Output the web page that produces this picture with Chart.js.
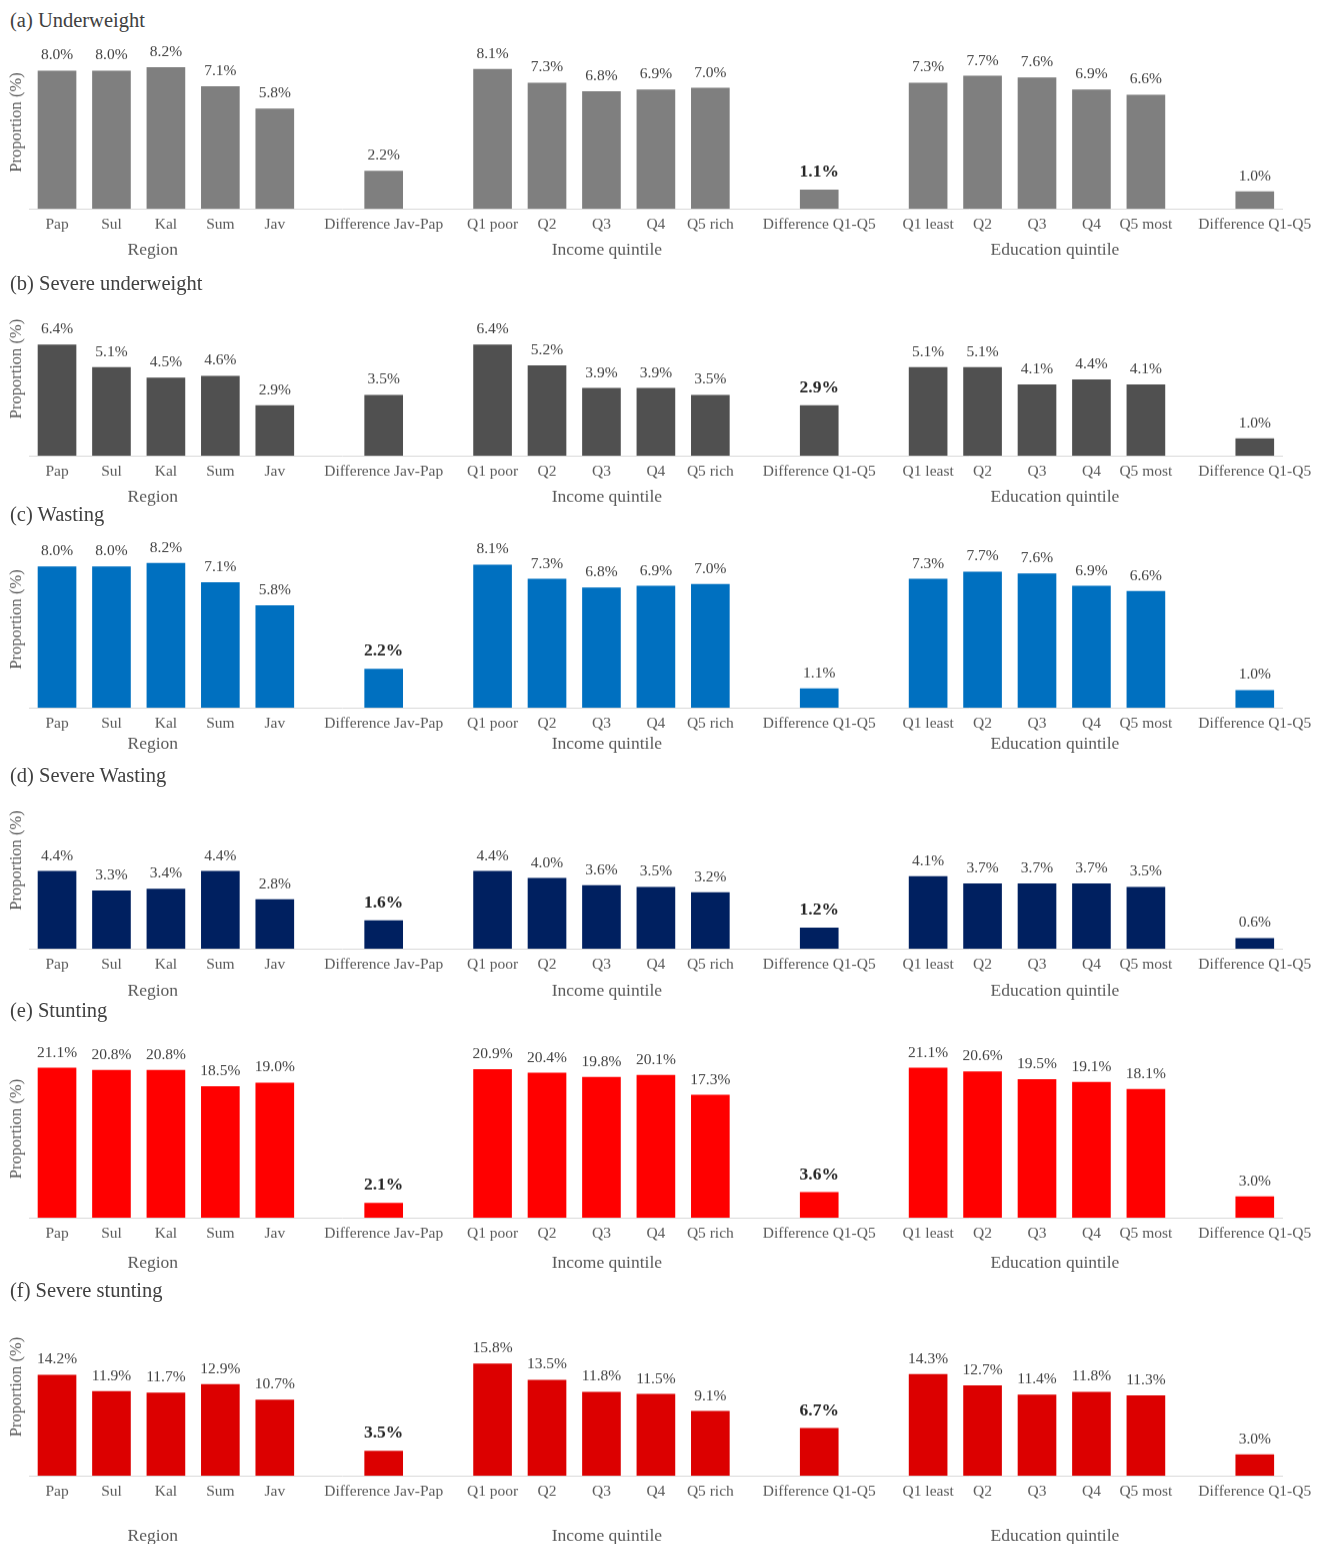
<!DOCTYPE html>
<html>
<head>
<meta charset="utf-8">
<script src="https://cdn.jsdelivr.net/npm/chart.js@4.4.1/dist/chart.umd.min.js"></script>
<style>
  html, body { margin: 0; padding: 0; background: #fff; }
  #page { position: relative; width: 1325px; height: 1544px; overflow: hidden; }
  .panel { position: absolute; left: 0; width: 1325px; }
  .ptitle { position: absolute; left: 10px; font-family: "Liberation Serif", "Times New Roman", serif;
            font-size: 20.5px; line-height: 22px; color: #404040; white-space: nowrap; }
</style>
</head>
<body>
<div id="page"></div>
<script>
// ---------- DATA ----------
const categories = ['Pap','Sul','Kal','Sum','Jav','','Difference Jav-Pap','',
  'Q1 poor','Q2','Q3','Q4','Q5 rich','','Difference Q1-Q5','',
  'Q1 least','Q2','Q3','Q4','Q5 most','','Difference Q1-Q5'];
const groupNames = ['Region','Income quintile','Education quintile'];

const underweight       = [8.0,8.0,8.2,7.1,5.8,null,2.2,null,8.1,7.3,6.8,6.9,7.0,null,1.1,null,7.3,7.7,7.6,6.9,6.6,null,1.0];
const severeUnderweight = [6.4,5.1,4.5,4.6,2.9,null,3.5,null,6.4,5.2,3.9,3.9,3.5,null,2.9,null,5.1,5.1,4.1,4.4,4.1,null,1.0];
const wasting           = [8.0,8.0,8.2,7.1,5.8,null,2.2,null,8.1,7.3,6.8,6.9,7.0,null,1.1,null,7.3,7.7,7.6,6.9,6.6,null,1.0];
const severeWasting     = [4.4,3.3,3.4,4.4,2.8,null,1.6,null,4.4,4.0,3.6,3.5,3.2,null,1.2,null,4.1,3.7,3.7,3.7,3.5,null,0.6];
const stunting          = [21.1,20.8,20.8,18.5,19.0,null,2.1,null,20.9,20.4,19.8,20.1,17.3,null,3.6,null,21.1,20.6,19.5,19.1,18.1,null,3.0];
const severeStunting    = [14.2,11.9,11.7,12.9,10.7,null,3.5,null,15.8,13.5,11.8,11.5,9.1,null,6.7,null,14.3,12.7,11.4,11.8,11.3,null,3.0];

// bold (significant) flags for the three "Difference" columns: [region, income, education]
const boldUnderweight       = [false, true,  false];
const boldSevereUnderweight = [false, true,  false];
const boldWasting           = [true,  false, false];
const boldSevereWasting     = [true,  true,  false];
const boldStunting          = [true,  true,  false];
const boldSevereStunting    = [true,  true,  false];

const titles = ['(a) Underweight','(b) Severe underweight','(c) Wasting','(d) Severe Wasting','(e) Stunting','(f) Severe stunting'];

// ---------- LAYOUT / STYLE ----------
const panels = [
  { title: titles[0], data: underweight,       bold: boldUnderweight,       color: '#7F7F7F', ymax: 10, top: 36,   bottom: 208,  titleY: 20,   groupOff: 41 },
  { title: titles[1], data: severeUnderweight, bold: boldSevereUnderweight, color: '#505050', ymax: 10, top: 282,  bottom: 455,  titleY: 283,  groupOff: 41 },
  { title: titles[2], data: wasting,           bold: boldWasting,           color: '#0070C0', ymax: 10, top: 531,  bottom: 707,  titleY: 514,  groupOff: 36 },
  { title: titles[3], data: severeWasting,     bold: boldSevereWasting,     color: '#002060', ymax: 10, top: 772,  bottom: 948,  titleY: 775,  groupOff: 42 },
  { title: titles[4], data: stunting,          bold: boldStunting,          color: '#FF0000', ymax: 25, top: 1040, bottom: 1217, titleY: 1010, groupOff: 45 },
  { title: titles[5], data: severeStunting,    bold: boldSevereStunting,    color: '#DC0000', ymax: 25, top: 1298, bottom: 1475, titleY: 1290, groupOff: 60 }
];
const groupAt = [1.76, 10.1, 18.33]; // fractional category offsets for group captions

const FONT = '"Liberation Serif", "Times New Roman", serif';
Chart.defaults.font.family = FONT;

const PAD_TOP = 10, AXIS_H = 32.6, PAD_BOTTOM = 70;

const diffIdx = categories.map((c, i) => c.startsWith('Difference') ? i : -1).filter(i => i >= 0);

const annotatePlugin = {
  id: 'annotate',
  afterDatasetsDraw(chart, args, opts) {
    const ctx = chart.ctx;
    const meta = chart.getDatasetMeta(0);
    const vals = chart.data.datasets[0].data;
    ctx.save();
    ctx.textAlign = 'center';
    ctx.textBaseline = 'alphabetic';
    meta.data.forEach((bar, i) => {
      const v = vals[i];
      if (v === null || v === undefined) return;
      const dpos = diffIdx.indexOf(i);
      const bold = dpos >= 0 && opts.bold[dpos];
      ctx.font = bold ? 'bold 17.5px ' + FONT : '15.5px ' + FONT;
      ctx.fillStyle = bold ? '#262626' : '#404040';
      ctx.fillText(v.toFixed(1) + '%', bar.x, bar.y - (bold ? 13 : 11));
    });
    const xs = chart.scales.x;
    const step = xs.getPixelForValue(1) - xs.getPixelForValue(0);
    ctx.font = '17.5px ' + FONT;
    ctx.fillStyle = '#595959';
    ctx.textBaseline = 'middle';
    groupNames.forEach((g, j) => {
      ctx.fillText(g, xs.getPixelForValue(0) + groupAt[j] * step, chart.chartArea.bottom + opts.groupOff);
    });
    ctx.restore();
  }
};

const page = document.getElementById('page');
panels.forEach(p => {
  const t = document.createElement('div');
  t.className = 'ptitle';
  t.style.top = (p.titleY - 11) + 'px';
  t.textContent = p.title;
  page.appendChild(t);

  const h = (p.bottom - p.top) + PAD_TOP + AXIS_H + PAD_BOTTOM;
  const box = document.createElement('div');
  box.className = 'panel';
  box.style.top = (p.top - PAD_TOP) + 'px';
  box.style.height = h + 'px';
  const cv = document.createElement('canvas');
  box.appendChild(cv);
  page.appendChild(box);

  new Chart(cv, {
    type: 'bar',
    data: {
      labels: categories,
      datasets: [{
        data: p.data,
        backgroundColor: p.color,
        borderWidth: 0,
        barPercentage: 0.71,
        categoryPercentage: 1.0
      }]
    },
    options: {
      responsive: true,
      maintainAspectRatio: false,
      animation: false,
      events: [],
      layout: { padding: { top: PAD_TOP, left: 3, right: 43, bottom: PAD_BOTTOM } },
      plugins: {
        legend: { display: false },
        tooltip: { enabled: false },
        annotate: { bold: p.bold, groupOff: p.groupOff }
      },
      scales: {
        x: {
          grid: { display: false, drawTicks: false },
          border: { display: true, color: '#D9D9D9', width: 1 },
          ticks: { autoSkip: false, maxRotation: 0, minRotation: 0, padding: 7,
                   color: '#595959', font: { size: 15.5, family: FONT } }
        },
        y: {
          min: 0, max: p.ymax,
          grid: { display: false, drawTicks: false },
          border: { display: false },
          ticks: { display: false },
          title: { display: true, text: 'Proportion (%)', color: '#595959',
                   font: { size: 16.5, family: FONT }, padding: { top: 4, bottom: 3 } }
        }
      }
    },
    plugins: [annotatePlugin]
  });
});
</script>
</body>
</html>
